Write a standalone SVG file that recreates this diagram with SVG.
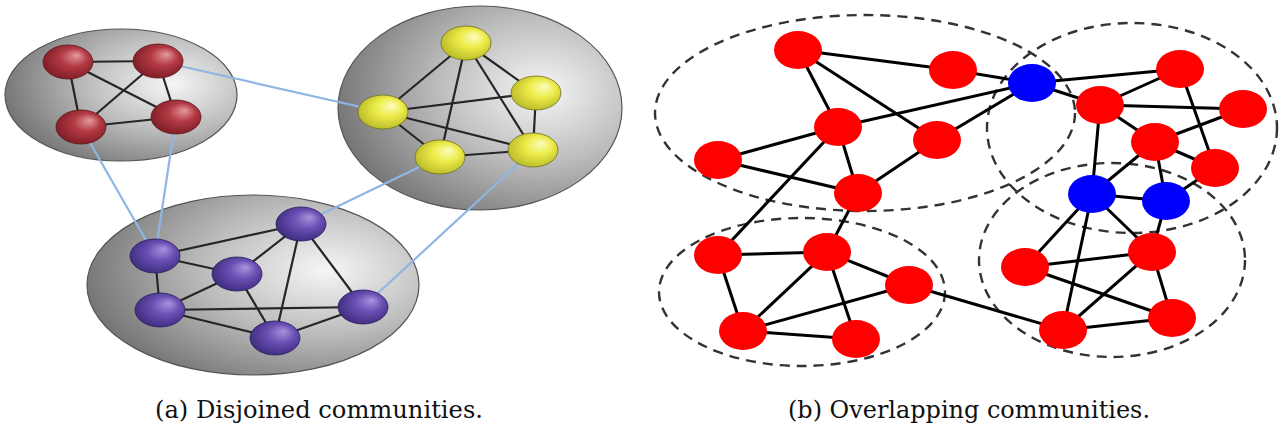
<svg xmlns="http://www.w3.org/2000/svg" width="1280" height="430" viewBox="0 0 1280 430">
  <defs>
    <radialGradient id="cloud" cx="0.7" cy="0.4" fx="0.72" fy="0.42" r="0.8">
      <stop offset="0" stop-color="#f6f6f6"/>
      <stop offset="0.45" stop-color="#bcbcbc"/>
      <stop offset="1" stop-color="#666"/>
    </radialGradient>
    <radialGradient id="gRed" cx="0.55" cy="0.45" fx="0.68" fy="0.3" r="0.6">
      <stop offset="0" stop-color="#e59a9a"/>
      <stop offset="0.45" stop-color="#b33a44"/>
      <stop offset="1" stop-color="#7c1a24"/>
    </radialGradient>
    <radialGradient id="gYel" cx="0.55" cy="0.45" fx="0.68" fy="0.3" r="0.6">
      <stop offset="0" stop-color="#fcfcc0"/>
      <stop offset="0.45" stop-color="#ecec48"/>
      <stop offset="1" stop-color="#b8b828"/>
    </radialGradient>
    <radialGradient id="gPur" cx="0.55" cy="0.45" fx="0.68" fy="0.3" r="0.6">
      <stop offset="0" stop-color="#a894dc"/>
      <stop offset="0.45" stop-color="#6a50b4"/>
      <stop offset="1" stop-color="#3c2a7c"/>
    </radialGradient>
    <style>
      .cloud { fill: url(#cloud); stroke: #555; stroke-width: 1.2; }
      .ln { stroke: #262626; stroke-width: 2.2; fill: none; }
      .bridge { stroke: #8fb6e2; stroke-width: 2.2; fill: none; }
      .nr { fill: url(#gRed); stroke: #5a1a1a; stroke-width: 0.8; }
      .ny { fill: url(#gYel); stroke: #6e6e20; stroke-width: 0.8; }
      .np { fill: url(#gPur); stroke: #2c2060; stroke-width: 0.8; }
      .ring { fill: none; stroke: #333; stroke-width: 2.4; stroke-dasharray: 10 7; }
      .e { stroke: #000; stroke-width: 3; fill: none; }
      .red { fill: #ff0000; }
      .blue { fill: #0000ff; }
      .cap { font-family: "DejaVu Serif", "Liberation Serif", serif; font-size: 24px; fill: #111; }
    </style>
  </defs>

  <rect width="1280" height="430" fill="#fff"/>

  <!-- (a) disjoint communities -->
  <g id="community-red">
    <ellipse class="cloud" cx="121" cy="95" rx="116" ry="66"/>
  </g>
  <g id="community-yellow">
    <ellipse class="cloud" cx="480" cy="108" rx="142" ry="102"/>
  </g>
  <g id="community-purple">
    <ellipse class="cloud" cx="253" cy="285" rx="166" ry="90"/>
  </g>

  <g id="connectors-a">
    <!-- links between communities -->
    <line class="bridge" x1="158" y1="61" x2="383" y2="112"/>
    <line class="bridge" x1="81" y1="127" x2="155" y2="256"/>
    <line class="bridge" x1="176" y1="117" x2="155" y2="256"/>
    <line class="bridge" x1="440" y1="157" x2="301" y2="224"/>
    <line class="bridge" x1="533" y1="150" x2="363" y2="307"/>
    <!-- red community -->
    <line class="ln" x1="68" y1="62" x2="158" y2="61"/>
    <line class="ln" x1="68" y1="62" x2="81" y2="127"/>
    <line class="ln" x1="68" y1="62" x2="176" y2="117"/>
    <line class="ln" x1="158" y1="61" x2="81" y2="127"/>
    <line class="ln" x1="158" y1="61" x2="176" y2="117"/>
    <line class="ln" x1="81" y1="127" x2="176" y2="117"/>
    <!-- yellow community -->
    <line class="ln" x1="466" y1="43" x2="383" y2="112"/>
    <line class="ln" x1="466" y1="43" x2="536" y2="93"/>
    <line class="ln" x1="466" y1="43" x2="440" y2="157"/>
    <line class="ln" x1="466" y1="43" x2="533" y2="150"/>
    <line class="ln" x1="383" y1="112" x2="536" y2="93"/>
    <line class="ln" x1="383" y1="112" x2="440" y2="157"/>
    <line class="ln" x1="383" y1="112" x2="533" y2="150"/>
    <line class="ln" x1="536" y1="93" x2="533" y2="150"/>
    <line class="ln" x1="440" y1="157" x2="533" y2="150"/>
    <!-- purple community -->
    <line class="ln" x1="155" y1="256" x2="301" y2="224"/>
    <line class="ln" x1="155" y1="256" x2="237" y2="274"/>
    <line class="ln" x1="155" y1="256" x2="160" y2="310"/>
    <line class="ln" x1="237" y1="274" x2="301" y2="224"/>
    <line class="ln" x1="237" y1="274" x2="160" y2="310"/>
    <line class="ln" x1="237" y1="274" x2="275" y2="338"/>
    <line class="ln" x1="301" y1="224" x2="275" y2="338"/>
    <line class="ln" x1="301" y1="224" x2="363" y2="307"/>
    <line class="ln" x1="160" y1="310" x2="363" y2="307"/>
    <line class="ln" x1="160" y1="310" x2="275" y2="338"/>
    <line class="ln" x1="275" y1="338" x2="363" y2="307"/>
  </g>

  <g id="nodes-red">
    <ellipse class="nr" cx="68" cy="62" rx="25" ry="17"/>
    <ellipse class="nr" cx="158" cy="61" rx="25" ry="17"/>
    <ellipse class="nr" cx="81" cy="127" rx="25" ry="17"/>
    <ellipse class="nr" cx="176" cy="117" rx="25" ry="17"/>
  </g>
  <g id="nodes-yellow">
    <ellipse class="ny" cx="466" cy="43" rx="25" ry="17"/>
    <ellipse class="ny" cx="536" cy="93" rx="25" ry="17"/>
    <ellipse class="ny" cx="383" cy="112" rx="25" ry="17"/>
    <ellipse class="ny" cx="440" cy="157" rx="25" ry="17"/>
    <ellipse class="ny" cx="533" cy="150" rx="25" ry="17"/>
  </g>
  <g id="nodes-purple">
    <ellipse class="np" cx="155" cy="256" rx="25" ry="17"/>
    <ellipse class="np" cx="237" cy="274" rx="25" ry="17"/>
    <ellipse class="np" cx="301" cy="224" rx="25" ry="17"/>
    <ellipse class="np" cx="160" cy="310" rx="25" ry="17"/>
    <ellipse class="np" cx="275" cy="338" rx="25" ry="17"/>
    <ellipse class="np" cx="363" cy="307" rx="25" ry="17"/>
  </g>

  <!-- (b) overlapping communities -->
  <g id="rings">
    <ellipse class="ring" cx="865" cy="113" rx="210" ry="98"/>
    <ellipse class="ring" cx="1132" cy="128" rx="145" ry="105"/>
    <ellipse class="ring" cx="1112" cy="260" rx="133" ry="97"/>
    <ellipse class="ring" cx="802" cy="292" rx="143" ry="74"/>
  </g>

  <g id="connectors-b">
    <line class="e" x1="798" y1="50" x2="953" y2="70"/>
    <line class="e" x1="798" y1="50" x2="838" y2="127"/>
    <line class="e" x1="798" y1="50" x2="937" y2="140"/>
    <line class="e" x1="838" y1="127" x2="1032" y2="83"/>
    <line class="e" x1="838" y1="127" x2="718" y2="160"/>
    <line class="e" x1="838" y1="127" x2="858" y2="193"/>
    <line class="e" x1="718" y1="160" x2="858" y2="193"/>
    <line class="e" x1="937" y1="140" x2="858" y2="193"/>
    <line class="e" x1="838" y1="127" x2="718" y2="255"/>
    <line class="e" x1="858" y1="193" x2="827" y2="252"/>
    <line class="e" x1="937" y1="140" x2="1032" y2="83"/>
    <line class="e" x1="953" y1="70" x2="1032" y2="83"/>
    <line class="e" x1="1032" y1="83" x2="1180" y2="69"/>
    <line class="e" x1="1032" y1="83" x2="1100" y2="105"/>
    <line class="e" x1="1100" y1="105" x2="1180" y2="69"/>
    <line class="e" x1="1100" y1="105" x2="1243" y2="109"/>
    <line class="e" x1="1100" y1="105" x2="1155" y2="142"/>
    <line class="e" x1="1100" y1="105" x2="1092" y2="194"/>
    <line class="e" x1="1180" y1="69" x2="1215" y2="168"/>
    <line class="e" x1="1155" y1="142" x2="1243" y2="109"/>
    <line class="e" x1="1155" y1="142" x2="1215" y2="168"/>
    <line class="e" x1="1155" y1="142" x2="1092" y2="194"/>
    <line class="e" x1="1155" y1="142" x2="1166" y2="201"/>
    <line class="e" x1="1215" y1="168" x2="1166" y2="201"/>
    <line class="e" x1="1092" y1="194" x2="1166" y2="201"/>
    <line class="e" x1="1166" y1="201" x2="1152" y2="252"/>
    <line class="e" x1="1092" y1="194" x2="1025" y2="267"/>
    <line class="e" x1="1092" y1="194" x2="1063" y2="330"/>
    <line class="e" x1="1092" y1="194" x2="1152" y2="252"/>
    <line class="e" x1="1025" y1="267" x2="1152" y2="252"/>
    <line class="e" x1="1025" y1="267" x2="1172" y2="318"/>
    <line class="e" x1="1152" y1="252" x2="1063" y2="330"/>
    <line class="e" x1="1152" y1="252" x2="1172" y2="318"/>
    <line class="e" x1="1063" y1="330" x2="1172" y2="318"/>
    <line class="e" x1="909" y1="285" x2="1063" y2="330"/>
    <line class="e" x1="718" y1="255" x2="827" y2="252"/>
    <line class="e" x1="718" y1="255" x2="743" y2="331"/>
    <line class="e" x1="827" y1="252" x2="743" y2="331"/>
    <line class="e" x1="827" y1="252" x2="909" y2="285"/>
    <line class="e" x1="827" y1="252" x2="856" y2="339"/>
    <line class="e" x1="743" y1="331" x2="909" y2="285"/>
    <line class="e" x1="743" y1="331" x2="856" y2="339"/>
  </g>

  <g id="nodes-b">
    <ellipse class="red" cx="798" cy="50" rx="24" ry="19"/>
    <ellipse class="red" cx="953" cy="70" rx="24" ry="19"/>
    <ellipse class="red" cx="838" cy="127" rx="24" ry="19"/>
    <ellipse class="red" cx="937" cy="140" rx="24" ry="19"/>
    <ellipse class="red" cx="718" cy="160" rx="24" ry="19"/>
    <ellipse class="red" cx="858" cy="193" rx="24" ry="19"/>
    <ellipse class="blue" cx="1032" cy="83" rx="24" ry="19"/>
    <ellipse class="red" cx="1180" cy="69" rx="24" ry="19"/>
    <ellipse class="red" cx="1100" cy="105" rx="24" ry="19"/>
    <ellipse class="red" cx="1243" cy="109" rx="24" ry="19"/>
    <ellipse class="red" cx="1155" cy="142" rx="24" ry="19"/>
    <ellipse class="red" cx="1215" cy="168" rx="24" ry="19"/>
    <ellipse class="blue" cx="1092" cy="194" rx="24" ry="19"/>
    <ellipse class="blue" cx="1166" cy="201" rx="24" ry="19"/>
    <ellipse class="red" cx="1152" cy="252" rx="24" ry="19"/>
    <ellipse class="red" cx="1025" cy="267" rx="24" ry="19"/>
    <ellipse class="red" cx="1172" cy="318" rx="24" ry="19"/>
    <ellipse class="red" cx="1063" cy="330" rx="24" ry="19"/>
    <ellipse class="red" cx="718" cy="255" rx="24" ry="19"/>
    <ellipse class="red" cx="827" cy="252" rx="24" ry="19"/>
    <ellipse class="red" cx="909" cy="285" rx="24" ry="19"/>
    <ellipse class="red" cx="743" cy="331" rx="24" ry="19"/>
    <ellipse class="red" cx="856" cy="339" rx="24" ry="19"/>
  </g>

  <g id="captions">
    <text class="cap" x="155" y="418" textLength="328" lengthAdjust="spacingAndGlyphs">(a) Disjoined communities.</text>
    <text class="cap" x="788" y="418" textLength="362" lengthAdjust="spacingAndGlyphs">(b) Overlapping communities.</text>
  </g>
</svg>
